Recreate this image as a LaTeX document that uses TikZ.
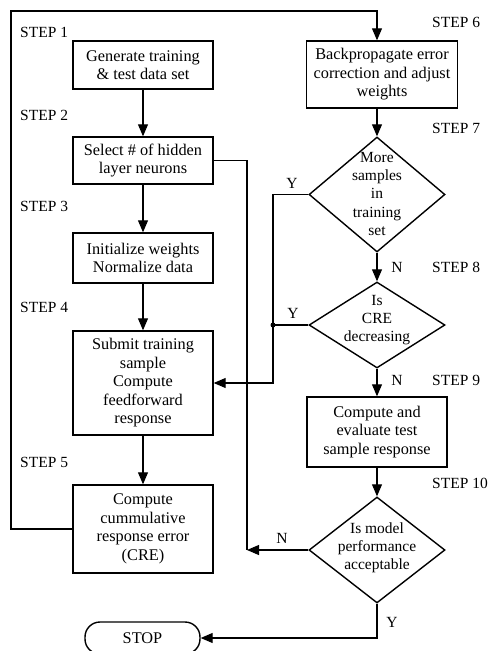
\documentclass[tikz,border=0pt]{standalone}
\usepackage{fontspec}
\setmainfont{Liberation Serif}
\usetikzlibrary{arrows.meta,shapes.geometric}
\newcommand\dtxt[2][0pt]{\raisebox{#1}{\smash{\makebox[0pt]{\begin{tabular}[c]{@{}c@{}}#2\end{tabular}}}}}
\begin{document}
\begin{tikzpicture}[x=1pt,y=-1pt,
  every node/.style={font=\fontsize{15.5}{18.3}\selectfont},
  box/.style={draw,line width=1.4pt,rectangle,inner sep=0pt,align=center,font=\fontsize{16.3}{18.5}\selectfont},
  dia/.style={draw,line width=1.4pt,diamond,inner sep=0pt,minimum width=136pt},
  term/.style={draw,line width=1.4pt,rectangle,rounded corners=15pt,inner sep=0pt,minimum width=115pt,minimum height=32pt,font=\fontsize{16.3}{18.5}\selectfont},
  lbl/.style={inner sep=0pt},
  steplbl/.style={inner sep=0pt,anchor=west},
  conn/.style={line width=1.1pt},
  arr/.style={line width=1.1pt,-{Triangle[length=12pt,width=10pt]}}
]
\useasboundingbox (0,0) rectangle (502,651);

% left column
\node[box,minimum width=140pt,minimum height=48pt] (b1) at (143,65) {Generate training\\\& test data set};
\node[box,minimum width=140pt,minimum height=47pt] (b2) at (143,160.5) {Select \# of hidden\\layer neurons};
\node[box,minimum width=140pt,minimum height=50pt] (b3) at (143,258) {Initialize weights\\Normalize data};
\node[box,minimum width=140pt,minimum height=104pt] (b4) at (143,383) {Submit training\\sample\\Compute\\feedforward\\response};
\node[box,minimum width=140pt,minimum height=88pt] (b5) at (143,529) {Compute\\cummulative\\response error\\(CRE)};
\node[term] (stop) at (142.5,638) {STOP};

% right column
\node[box,minimum width=151pt,minimum height=67pt] (b6) at (382,74.5) {Backpropagate error\\correction and adjust\\weights};
\node[dia,minimum height=115pt] (d7) at (377,194.5) {\dtxt[-8.5pt]{More\\samples\\in\\training\\set}};
\node[dia,minimum height=86pt] (d8) at (377,325) {\dtxt[3pt]{Is\\CRE\\decreasing}};
\node[box,minimum width=140pt,minimum height=70pt] (b9) at (377,432) {Compute and\\evaluate test\\sample response};
\node[dia,minimum height=106pt] (d10) at (377,550) {\dtxt[-3pt]{Is model\\performance\\acceptable}};

% step labels
\node[steplbl] (s1) at (20,32) {STEP 1};
\node[steplbl] (s2) at (20,115) {STEP 2};
\node[steplbl] (s3) at (20,206) {STEP 3};
\node[steplbl] (s4) at (20,307) {STEP 4};
\node[steplbl] (s5) at (20,462) {STEP 5};
\node[steplbl] (s6) at (432,22) {STEP 6};
\node[steplbl] (s7) at (432,128) {STEP 7};
\node[steplbl] (s8) at (432,267) {STEP 8};
\node[steplbl] (s9) at (432,380) {STEP 9};
\node[steplbl] (s10) at (432,483) {STEP 10};

% Y / N labels
\node[lbl] (y7) at (292,183) {Y};
\node[lbl] (n7) at (397,267) {N};
\node[lbl] (y8) at (293,313) {Y};
\node[lbl] (n8) at (397,380) {N};
\node[lbl] (n10) at (282,538) {N};
\node[lbl] (y10) at (392,622) {Y};

% helper coordinates
\coordinate (tl) at (11,11);
\coordinate (tr) at (377,11);
\coordinate (fbx) at (273,194.5);
\coordinate (fbb) at (273,383);
\coordinate (dot) at (273,325);
\coordinate (rt) at (247,160.5);
\coordinate (rb) at (247,550);
\coordinate (sb) at (377,638);

% main flow
\draw[arr] (b1) -- (b2);
\draw[arr] (b2) -- (b3);
\draw[arr] (b3) -- (b4);
\draw[arr] (b4) -- (b5);
\draw[arr] (b5.west) -| (tl) -- (tr) -- (tr |- b6.north);
\draw[arr] (d7.north |- b6.south) -- (d7.north);
\draw[arr] (d7.south) -- (d8.north);
\draw[arr] (d8.south) -- (b9.north);
\draw[arr] (b9.south) -- (d10.north);
\draw[arr] (d10.south) -- (sb) -- (stop.east);

% feedback loops
\draw[arr] (d7.west) -- (fbx) -- (fbb) -- (b4.east);
\draw[conn] (d8.west) -- (dot);
\fill (dot) circle (2.5pt);
\draw[conn] (b2.east) -- (rt) -- (rb);
\draw[arr] (d10.west) -- (rb);
\end{tikzpicture}
\end{document}
